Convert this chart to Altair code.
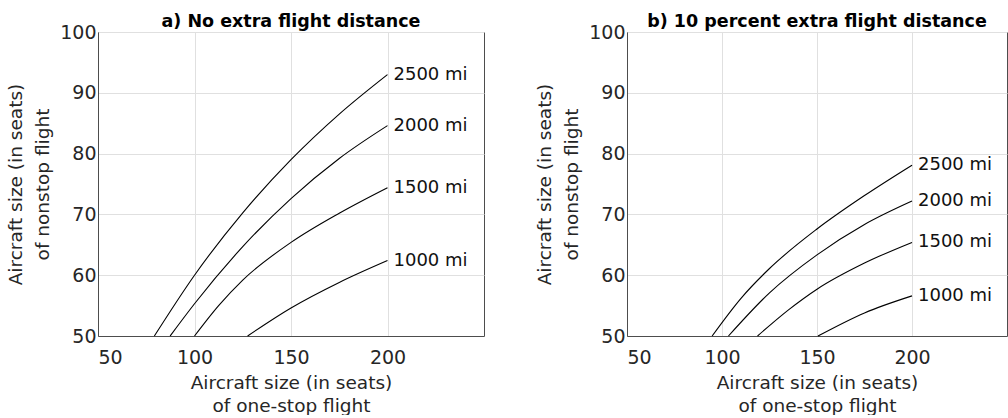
import altair as alt
import pandas as pd

SERIES = ["2500 mi", "2000 mi", "1500 mi", "1000 mi"]

# Panel a) No extra flight distance
A_2500_X = [79.2, 100, 125, 150, 175, 200]
A_2500_Y = [50, 60, 70.25, 79.0, 86.5, 93.0]
A_2000_X = [87.4, 100, 125, 150, 175, 200]
A_2000_Y = [50, 55.3, 64.7, 72.6, 79.2, 84.6]
A_1500_X = [100, 112.5, 125, 150, 175, 200]
A_1500_Y = [50, 55.0, 59.2, 65.4, 70.2, 74.4]
A_1000_X = [127.5, 150, 175, 200]
A_1000_Y = [50, 54.6, 58.8, 62.4]

# Panel b) 10 percent extra flight distance
B_2500_X = [94.8, 110, 125, 150, 175, 200]
B_2500_Y = [50, 56.2, 61.1, 67.6, 73.1, 78.1]
B_2000_X = [103.4, 125, 150, 175, 200]
B_2000_Y = [50, 57.1, 63.35, 68.35, 72.2]
B_1500_X = [118.7, 135, 150, 175, 200]
B_1500_Y = [50, 54.3, 57.7, 62.0, 65.4]
B_1000_X = [150.5, 175, 200]
B_1000_Y = [50, 53.8, 56.6]

X_TICKS = [50, 100, 150, 200]
Y_TICKS = [50, 60, 70, 80, 90, 100]
X_TITLE = ["Aircraft size (in seats)", "of one-stop flight"]
Y_TITLE = ["Aircraft size (in seats)", "of nonstop flight"]
TITLE_A = "a) No extra flight distance"
TITLE_B = "b) 10 percent extra flight distance"

FONT = "DejaVu Sans"


def panel(xs, ys, title, width):
    rows = []
    ends = []
    for name, xv, yv in zip(SERIES, xs, ys):
        for a, b in zip(xv, yv):
            rows.append({"series": name, "x": a, "y": b})
        ends.append({"series": name, "x": xv[-1], "y": yv[-1]})
    df = pd.DataFrame(rows)
    end_df = pd.DataFrame(ends)

    x = alt.X(
        "x:Q",
        scale=alt.Scale(domain=[50, 250], nice=False, zero=False),
        axis=alt.Axis(values=X_TICKS, title=X_TITLE, titleLineHeight=23,
                      labelPadding=12, titlePadding=6),
    )
    y = alt.Y(
        "y:Q",
        scale=alt.Scale(domain=[50, 100], nice=False, zero=False),
        axis=alt.Axis(values=Y_TICKS, title=Y_TITLE, titleLineHeight=27,
                      labelPadding=2, titlePadding=7),
    )
    lines = alt.Chart(df).mark_line(
        color="black", strokeWidth=1.1, interpolate="monotone"
    ).encode(x=x, y=y, detail="series:N")
    text = alt.Chart(end_df).mark_text(
        align="left", baseline="middle", dx=6, fontSize=18, font=FONT, color="#111111"
    ).encode(x="x:Q", y="y:Q", text="series:N")
    return alt.layer(lines, text).properties(
        width=width, height=304, title=alt.TitleParams(title)
    )


pa = panel([A_2500_X, A_2000_X, A_1500_X, A_1000_X],
           [A_2500_Y, A_2000_Y, A_1500_Y, A_1000_Y], TITLE_A, 386)
pb = panel([B_2500_X, B_2000_X, B_1500_X, B_1000_X],
           [B_2500_Y, B_2000_Y, B_1500_Y, B_1000_Y], TITLE_B, 380)

chart = alt.hconcat(pa, pb, spacing=143, bounds="flush").properties(
    padding={"left": 6, "top": 12, "right": 0, "bottom": 0},
    background="white",
).configure_view(
    stroke="#4d4d4d", strokeWidth=1
).configure_axis(
    grid=True,
    gridColor="#e0e0e0",
    gridWidth=1,
    ticks=False,
    domainColor="#4d4d4d",
    labelFont=FONT,
    labelFontSize=19,
    labelColor="#262626",
    titleFont=FONT,
    titleFontSize=18.5,
    titleFontWeight="normal",
    titleColor="#262626",
).configure_title(
    font=FONT,
    fontSize=17.5,
    fontWeight="bold",
    color="black",
    anchor="middle",
    offset=-7,
)

chart.save("out.html", embed_options={"renderer": "svg", "actions": False})
